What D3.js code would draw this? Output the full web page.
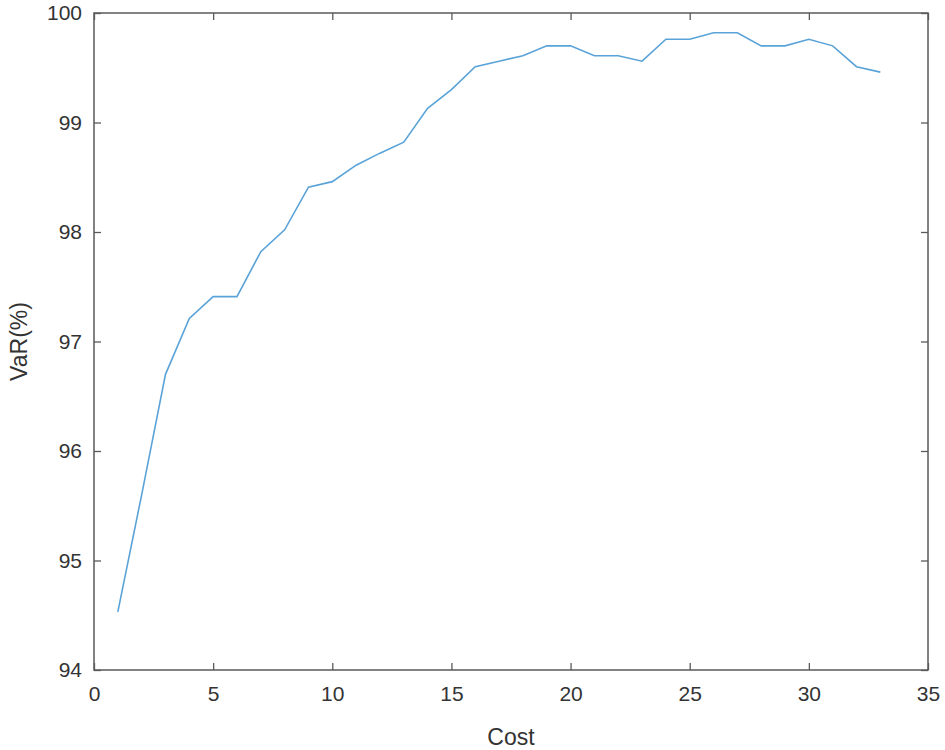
<!DOCTYPE html>
<html><head><meta charset="utf-8">
<script src="https://cdn.jsdelivr.net/npm/d3@7"></script>
<style>body{margin:0;background:#fff}</style>
</head><body>
<svg id="c" width="945" height="750"></svg>
<script>
const costs = [1,2,3,4,5,6,7,8,9,10,11,12,13,14,15,16,17,18,19,20,21,22,23,24,25,26,27,28,29,30,31,32,33];
const varPct = [94.53,95.6,96.7,97.21,97.41,97.41,97.82,98.02,98.41,98.46,98.61,98.72,98.82,99.13,99.3,99.51,99.56,99.61,99.7,99.7,99.61,99.61,99.56,99.76,99.76,99.82,99.82,99.7,99.7,99.76,99.7,99.51,99.46];
const xTicks = [0,5,10,15,20,25,30,35];
const yTicks = [94,95,96,97,98,99,100];

const svg = d3.select("#c");
const L=94, R=928, T=13, B=670;
const x = d3.scaleLinear().domain([0,35]).range([L,R]);
const y = d3.scaleLinear().domain([94,100]).range([B,T]);
const axCol="#5a5a5a", txtCol="#333";
const font="'Liberation Sans', Arial, sans-serif";

svg.append("rect").attr("x",L).attr("y",T).attr("width",R-L).attr("height",B-T)
  .attr("fill","none").attr("stroke",axCol).attr("stroke-width",1.5);

const tl=7;
const fmt=d3.format("d");
const gx=svg.append("g").attr("transform",`translate(0,${B})`)
  .call(d3.axisBottom(x).tickValues(xTicks).tickFormat(fmt).tickSizeInner(-tl).tickSizeOuter(0).tickPadding(16));
const gxt=svg.append("g").attr("transform",`translate(0,${T})`)
  .call(d3.axisTop(x).tickValues(xTicks).tickSizeInner(-tl).tickSizeOuter(0).tickFormat(""));
const gy=svg.append("g").attr("transform",`translate(${L},0)`)
  .call(d3.axisLeft(y).tickValues(yTicks).tickFormat(fmt).tickSizeInner(-tl).tickSizeOuter(0).tickPadding(12));
const gyr=svg.append("g").attr("transform",`translate(${R},0)`)
  .call(d3.axisRight(y).tickValues(yTicks).tickSizeInner(-tl).tickSizeOuter(0).tickFormat(""));
[gx,gxt,gy,gyr].forEach(g=>{
  g.select(".domain").remove();
  g.selectAll(".tick line").attr("stroke",axCol).attr("stroke-width",1.3);
  g.selectAll("text").attr("fill",txtCol).attr("font-family",font).attr("font-size",21);
});

svg.append("path").datum(costs.map((c,i)=>[c,varPct[i]]))
  .attr("fill","none").attr("stroke","#5aa3d8").attr("stroke-width",1.6)
  .attr("d",d3.line().x(d=>x(d[0])).y(d=>y(d[1])));

svg.append("text").attr("x",(L+R)/2).attr("y",745).attr("text-anchor","middle")
  .attr("fill",txtCol).attr("font-family",font).attr("font-size",23).text("Cost");
svg.append("text").attr("transform",`translate(27,${(T+B)/2}) rotate(-90)`).attr("text-anchor","middle")
  .attr("fill",txtCol).attr("font-family",font).attr("font-size",23).text("VaR(%)");
</script>
</body></html>
